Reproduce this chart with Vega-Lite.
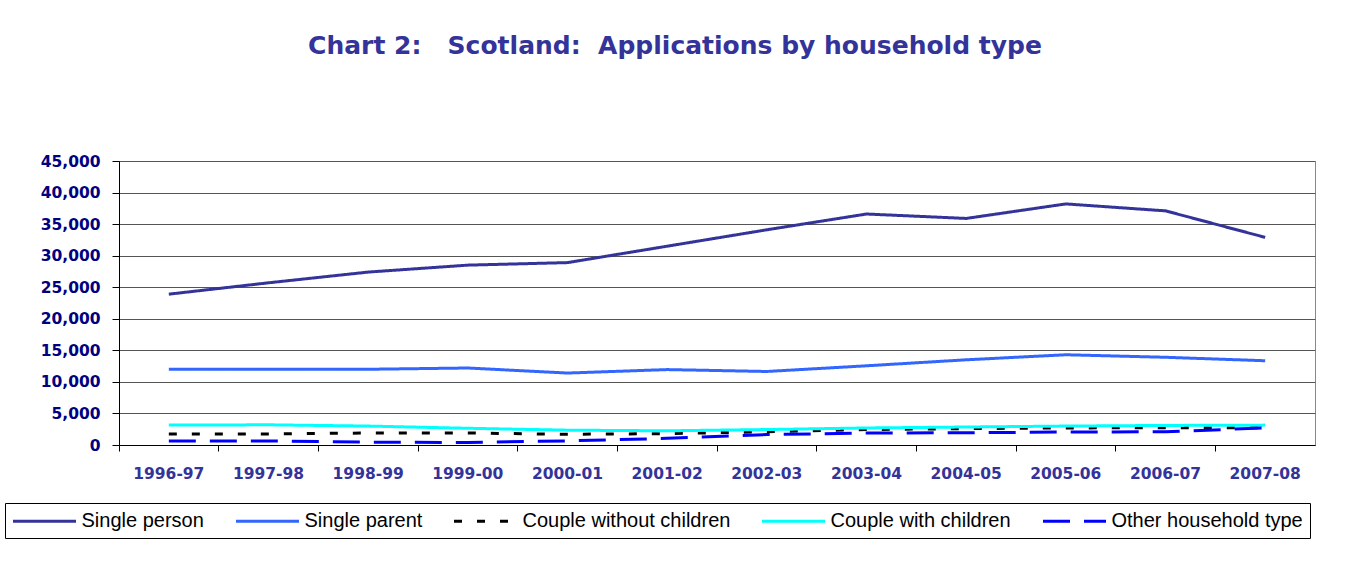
{
  "$schema": "https://vega.github.io/schema/vega-lite/v6.json",
  "width": 1196,
  "height": 284,
  "autosize": {"type": "none"},
  "padding": {"left": 119, "top": 161, "right": 35, "bottom": 138},
  "background": "white",
  "title": {
    "text": "Chart 2:\u00a0\u00a0 Scotland:\u00a0 Applications by household type",
    "anchor": "middle",
    "dx": -42,
    "offset": 95,
    "font": "DejaVu Sans",
    "fontSize": 25,
    "fontWeight": "bold",
    "color": "#333399"
  },
  "data": {
    "values": [
      {"year": "1996-97", "type": "Single person", "value": 23900},
      {"year": "1997-98", "type": "Single person", "value": 25700},
      {"year": "1998-99", "type": "Single person", "value": 27400},
      {"year": "1999-00", "type": "Single person", "value": 28500},
      {"year": "2000-01", "type": "Single person", "value": 28900},
      {"year": "2001-02", "type": "Single person", "value": 31500},
      {"year": "2002-03", "type": "Single person", "value": 34100},
      {"year": "2003-04", "type": "Single person", "value": 36600},
      {"year": "2004-05", "type": "Single person", "value": 35900},
      {"year": "2005-06", "type": "Single person", "value": 38200},
      {"year": "2006-07", "type": "Single person", "value": 37100},
      {"year": "2007-08", "type": "Single person", "value": 32900},
      {"year": "1996-97", "type": "Single parent", "value": 12000},
      {"year": "1997-98", "type": "Single parent", "value": 12000},
      {"year": "1998-99", "type": "Single parent", "value": 12000},
      {"year": "1999-00", "type": "Single parent", "value": 12200},
      {"year": "2000-01", "type": "Single parent", "value": 11400},
      {"year": "2001-02", "type": "Single parent", "value": 11950},
      {"year": "2002-03", "type": "Single parent", "value": 11650},
      {"year": "2003-04", "type": "Single parent", "value": 12550},
      {"year": "2004-05", "type": "Single parent", "value": 13500},
      {"year": "2005-06", "type": "Single parent", "value": 14300},
      {"year": "2006-07", "type": "Single parent", "value": 13900},
      {"year": "2007-08", "type": "Single parent", "value": 13350},
      {"year": "1996-97", "type": "Couple without children", "value": 1750},
      {"year": "1997-98", "type": "Couple without children", "value": 1750},
      {"year": "1998-99", "type": "Couple without children", "value": 1900},
      {"year": "1999-00", "type": "Couple without children", "value": 1900},
      {"year": "2000-01", "type": "Couple without children", "value": 1700},
      {"year": "2001-02", "type": "Couple without children", "value": 1800},
      {"year": "2002-03", "type": "Couple without children", "value": 2100},
      {"year": "2003-04", "type": "Couple without children", "value": 2450},
      {"year": "2004-05", "type": "Couple without children", "value": 2600},
      {"year": "2005-06", "type": "Couple without children", "value": 2700},
      {"year": "2006-07", "type": "Couple without children", "value": 2750},
      {"year": "2007-08", "type": "Couple without children", "value": 2750},
      {"year": "1996-97", "type": "Couple with children", "value": 3150},
      {"year": "1997-98", "type": "Couple with children", "value": 3200},
      {"year": "1998-99", "type": "Couple with children", "value": 3000},
      {"year": "1999-00", "type": "Couple with children", "value": 2650},
      {"year": "2000-01", "type": "Couple with children", "value": 2350},
      {"year": "2001-02", "type": "Couple with children", "value": 2250},
      {"year": "2002-03", "type": "Couple with children", "value": 2450},
      {"year": "2003-04", "type": "Couple with children", "value": 2700},
      {"year": "2004-05", "type": "Couple with children", "value": 2850},
      {"year": "2005-06", "type": "Couple with children", "value": 3000},
      {"year": "2006-07", "type": "Couple with children", "value": 3100},
      {"year": "2007-08", "type": "Couple with children", "value": 3150},
      {"year": "1996-97", "type": "Other household type", "value": 650},
      {"year": "1997-98", "type": "Other household type", "value": 650},
      {"year": "1998-99", "type": "Other household type", "value": 450},
      {"year": "1999-00", "type": "Other household type", "value": 400},
      {"year": "2000-01", "type": "Other household type", "value": 650},
      {"year": "2001-02", "type": "Other household type", "value": 1050},
      {"year": "2002-03", "type": "Other household type", "value": 1650},
      {"year": "2003-04", "type": "Other household type", "value": 1900},
      {"year": "2004-05", "type": "Other household type", "value": 1950},
      {"year": "2005-06", "type": "Other household type", "value": 2050},
      {"year": "2006-07", "type": "Other household type", "value": 2100},
      {"year": "2007-08", "type": "Other household type", "value": 2700}
    ]
  },
  "encoding": {
    "y": {
      "field": "value",
      "type": "quantitative",
      "scale": {"domain": [0, 45000], "nice": false},
      "axis": {
        "title": null,
        "values": [0, 5000, 10000, 15000, 20000, 25000, 30000, 35000, 40000, 45000],
        "format": ",d",
        "labelFont": "DejaVu Sans",
        "labelFontSize": 15.5,
        "labelFontWeight": "bold",
        "labelColor": "#000080",
        "labelPadding": 12,
        "tickSize": 7,
        "tickColor": "#000000",
        "domainColor": "#000000",
        "gridColor": "#555555",
        "gridWidth": 1
      }
    }
  },
  "layer": [
    {
      "mark": {"type": "line"},
      "encoding": {
        "x": {
          "field": "year",
          "type": "ordinal",
          "scale": {"type": "band", "paddingInner": 0, "paddingOuter": 0},
          "axis": {
            "orient": "bottom",
            "title": null,
            "labelAngle": 0,
            "ticks": false,
            "grid": false,
            "domain": true,
            "domainColor": "#000000",
            "labelFont": "DejaVu Sans",
            "labelFontSize": 15.5,
            "labelFontWeight": "bold",
            "labelColor": "#333399",
            "labelPadding": 21
          }
        },
        "color": {
          "field": "type",
          "type": "nominal",
          "scale": {
            "domain": ["Single person", "Single parent", "Couple without children", "Couple with children", "Other household type"],
            "range": ["#333399", "#3366FF", "#000000", "#00FFFF", "#0000FF"]
          },
          "legend": {"title": null}
        },
        "strokeDash": {
          "field": "type",
          "type": "nominal",
          "scale": {
            "domain": ["Single person", "Single parent", "Couple without children", "Couple with children", "Other household type"],
            "range": [[1, 0], [1, 0], [8, 15], [1, 0], [27, 14]]
          },
          "legend": {"title": null}
        },
        "strokeWidth": {
          "field": "type",
          "type": "nominal",
          "scale": {
            "domain": ["Single person", "Single parent", "Couple without children", "Couple with children", "Other household type"],
            "range": [3, 3, 4, 4, 4]
          },
          "legend": {"title": null}
        }
      }
    },
    {
      "mark": {"type": "line", "opacity": 0},
      "encoding": {
        "x": {
          "field": "year",
          "type": "ordinal",
          "scale": {"type": "band", "paddingInner": 0, "paddingOuter": 0},
          "axis": {
            "orient": "bottom",
            "title": null,
            "labels": false,
            "ticks": true,
            "tickSize": 6,
            "tickColor": "#000000",
            "bandPosition": 0,
            "grid": false,
            "domain": false
          }
        }
      }
    }
  ],
  "resolve": {"axis": {"x": "independent"}},
  "config": {
    "view": {"stroke": "#888888", "strokeWidth": 1},
    "legend": {
      "orient": "none",
      "legendX": -114,
      "legendY": 342,
      "direction": "horizontal",
      "labelFont": "Liberation Sans",
      "labelFontSize": 20,
      "labelColor": "#000000",
      "labelOffset": 47,
      "symbolType": "M-1,0H5.3",
      "symbolSize": 400,
      "strokeColor": "#000000",
      "padding": 6.5,
      "columnPadding": 25,
      "labelLimit": 400
    }
  }
}
